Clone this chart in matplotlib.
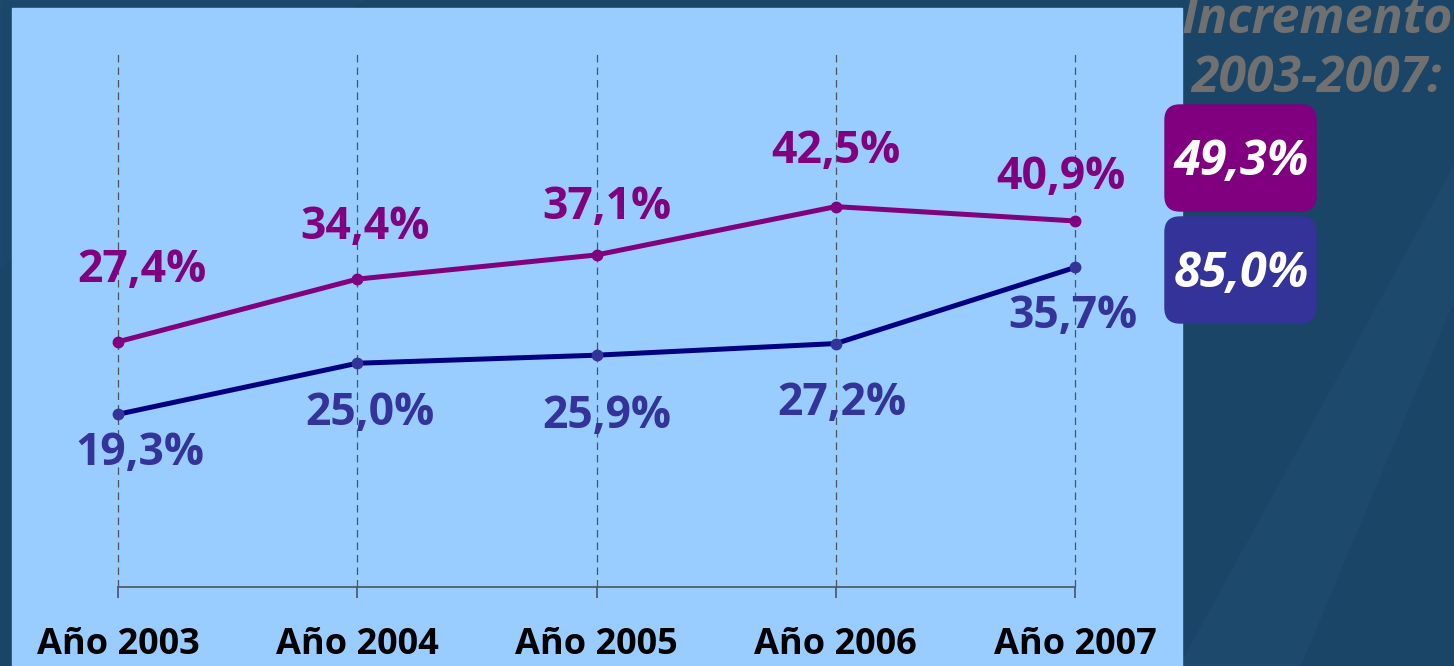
import matplotlib.pyplot as plt
from matplotlib.patches import Rectangle, FancyBboxPatch, Polygon

# Datos
anios = ["Año 2003", "Año 2004", "Año 2005", "Año 2006", "Año 2007"]
serie_morada = [27.4, 34.4, 37.1, 42.5, 40.9]
serie_azul = [19.3, 25.0, 25.9, 27.2, 35.7]
etiquetas_morada = ["27,4%", "34,4%", "37,1%", "42,5%", "40,9%"]
etiquetas_azul = ["19,3%", "25,0%", "25,9%", "27,2%", "35,7%"]
incrementos = ["49,3%", "85,0%"]

# desplazamientos de las etiquetas (pixeles, linea base)
desp_morada = [(24, 60), (8, 40), (10, 36), (0, 44), (-14, 32)]
desp_azul = [(22, -51), (13, -62), (10, -73), (6, -71), (-2, -61)]

MORADO = "#800080"
AZUL_LINEA = "#000080"
AZUL_TXT = "#333399"
FONDO = "#1a4566"
PANEL = "#99ccff"
FUENTE = ["Open Sans", "DejaVu Sans"]

W, H = 1454, 666
fig = plt.figure(figsize=(W / 100, H / 100), dpi=100, facecolor=FONDO)

# franjas del fondo
fig.patches.append(Polygon([(1180 / W, 0), (1300 / W, 0), (1454 / W, 0.55), (1454 / W, 0.75)],
                           closed=True, transform=fig.transFigure, color="#1f4d72", alpha=0.5, zorder=0))
fig.patches.append(Polygon([(0, 1), (0.25, 1), (0, 0.6)],
                           closed=True, transform=fig.transFigure, color="#1f4d72", alpha=0.4, zorder=0))

# panel celeste
fig.patches.append(Rectangle((12 / W, 0), (1182 - 12) / W, (H - 8) / H,
                             transform=fig.transFigure, color=PANEL, zorder=1))

ax = fig.add_axes([118 / W, (H - 587) / H, (1075 - 118) / W, (587 - 50) / H])
ax.set_facecolor("none")
ax.set_zorder(2)
x = list(range(len(anios)))
ax.set_xlim(0, 4)
ax.set_ylim(0, 60)

for xi in x:
    ax.axvline(xi, color="#4a5560", lw=0.9, ls=(0, (6, 4)), zorder=1, clip_on=False)

ax.plot(x, serie_morada, color=MORADO, lw=3.6, zorder=3, clip_on=False)
ax.plot(x, serie_morada, "o", color=MORADO, ms=7.5, zorder=4, clip_on=False)
ax.plot(x, serie_azul, color=AZUL_LINEA, lw=3.6, zorder=3, clip_on=False)
ax.plot(x, serie_azul, "o", color=AZUL_TXT, ms=7.5, zorder=4, clip_on=False)

for xi, v, t, d in zip(x, serie_morada, etiquetas_morada, desp_morada):
    ax.annotate(t, (xi, v), xytext=d, textcoords="offset pixels", ha="center", va="baseline",
                color=MORADO, fontsize=32, fontweight="bold", family=FUENTE, zorder=5)
for xi, v, t, d in zip(x, serie_azul, etiquetas_azul, desp_azul):
    ax.annotate(t, (xi, v), xytext=d, textcoords="offset pixels", ha="center", va="baseline",
                color=AZUL_TXT, fontsize=32, fontweight="bold", family=FUENTE, zorder=5)

for s in ["top", "right", "left"]:
    ax.spines[s].set_visible(False)
ax.spines["bottom"].set_color("#4a5560")
ax.spines["bottom"].set_linewidth(1.2)
ax.set_yticks([])
ax.set_xticks(x)
ax.set_xticklabels(anios, fontsize=26, fontweight="bold", family=FUENTE, color="black")
ax.tick_params(axis="x", direction="out", length=8, width=1.2, color="#4a5560", pad=21)

# texto y cajas de la derecha
fig.text(1317 / W, (H - 33) / H, "Incremento", ha="center", va="baseline", color="#707070",
         fontsize=36, fontweight="bold", style="italic", family=FUENTE)
fig.text(1316 / W, (H - 92) / H, "2003-2007:", ha="center", va="baseline", color="#707070",
         fontsize=36, fontweight="bold", style="italic", family=FUENTE)

cajas = [(MORADO, 4.55), (AZUL_TXT, 3.43)]
for (col, y0), txt in zip(cajas, incrementos):
    fig.patches.append(FancyBboxPatch((11.65, y0), 1.51, 1.06, boxstyle="round,pad=0,rounding_size=0.15",
                                      transform=fig.dpi_scale_trans, color=col, zorder=3))
    fig.text(12.415 / (W / 100), (y0 + 0.53 - 0.17) / (H / 100), txt, ha="center", va="baseline",
             color="white", fontsize=35, fontweight="bold", style="italic", family=FUENTE, zorder=4)

fig.savefig("out.png", dpi=100, facecolor=FONDO)
